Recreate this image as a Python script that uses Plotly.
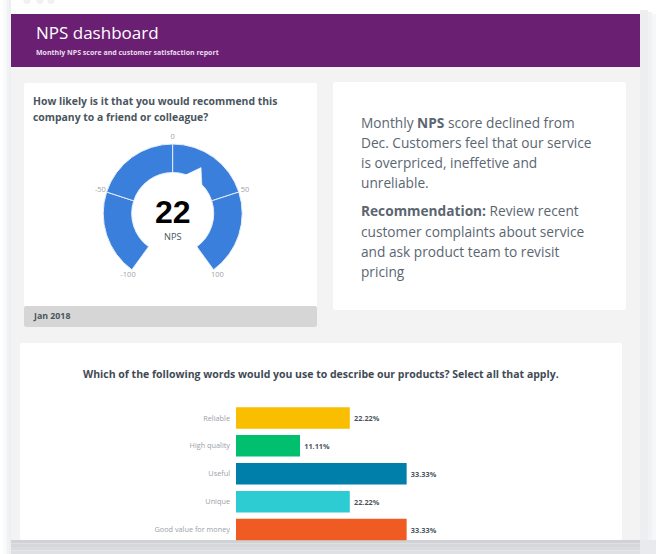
import plotly.graph_objects as go

W, H = 656, 554

# data
nps_score = 22
band_starts = [-100, -50, 0, 50]
band_size = 50
nps_ticks = [-100, -50, 0, 50, 100]
words = ["Reliable", "High quality", "Useful", "Unique", "Good value for money"]
# bar lengths as drawn; High quality is drawn a little longer than its label says
word_pct = [22.22, 12.5, 33.33, 22.22, 33.33]
word_labels = ["22.22%", "11.11%", "33.33%", "22.22%", "33.33%"]
word_colors = ["#f9be00", "#00bf6f", "#007faa", "#2dccd3", "#f05b24"]
summary_lines = [
    "Monthly <b>NPS</b> score declined from",
    "Dec. Customers feel that our service",
    "is overpriced, ineffetive and",
    "unreliable.",
]
advice_lines = [
    "<b>Recommendation:</b> Review recent",
    "customer complaints about service",
    "and ask product team to revisit",
    "pricing",
]

FONT = "Open Sans"
DEG_PER_NPS = 1.44
HOLE_R = 41
OUTER_R = 69.5
TICK_R = 76
GAUGE_R = 80


def px(x):
    return x / W


def py(y):
    return 1 - y / H


def rect(x0, y0, x1, y1, color, radius=0):
    if radius:
        r = radius
        path = (f"M{px(x0 + r)},{py(y0)} L{px(x1 - r)},{py(y0)} Q{px(x1)},{py(y0)} {px(x1)},{py(y0 + r)} "
                f"L{px(x1)},{py(y1 - r)} Q{px(x1)},{py(y1)} {px(x1 - r)},{py(y1)} "
                f"L{px(x0 + r)},{py(y1)} Q{px(x0)},{py(y1)} {px(x0)},{py(y1 - r)} "
                f"L{px(x0)},{py(y0 + r)} Q{px(x0)},{py(y0)} {px(x0 + r)},{py(y0)} Z")
        return dict(type="path", path=path, xref="paper", yref="paper",
                    fillcolor=color, line_width=0, layer="below")
    return dict(type="rect", x0=px(x0), x1=px(x1), y0=py(y0), y1=py(y1), xref="paper", yref="paper",
                fillcolor=color, line_width=0, layer="below")


def label(x, y, text, size, color, anchor="left", family=FONT, weight=None):
    font = dict(family=family, size=size, color=color)
    if weight:
        font["weight"] = weight
    return dict(x=px(x), y=py(y), xref="paper", yref="paper", text=text, showarrow=False,
                xanchor=anchor, yanchor="middle", borderpad=0, font=font)


shapes = []
# drop shadow around the page
for i, c in enumerate(["#fbfbfc", "#f7f8f9", "#f2f3f5", "#eeeff1"]):
    shapes.append(rect(3 + i * 2, 0, 11, 554, c))
for i, c in enumerate(["#f6f7f8", "#f1f2f4", "#eceef0"]):
    shapes.append(rect(640, 14 - i * 2, 656 - i * 4, 554, c))
for i, c in enumerate(["#d0d2d5", "#d5d7da", "#dadbde", "#dfe0e3"]):
    shapes.append(rect(11, 540 + i * 3.5, 640, 540 + (i + 1) * 3.5, c))
shapes.append(rect(640, 540, 656, 554, "#e9eaed"))
shapes.append(rect(11, 14, 640, 540, "#f3f3f3"))
shapes.append(rect(11, 14, 640, 67, "#6a1f73"))
# window dots
for cx in [27, 40, 51]:
    shapes.append(dict(type="circle", x0=px(cx - 3.5), x1=px(cx + 3.5), y0=py(4), y1=py(-3),
                       xref="paper", yref="paper", fillcolor="#f1f1f1", line_width=0, layer="below"))
# cards
shapes.append(rect(24, 83, 317, 327, "#ffffff", 2))
shapes.append(rect(24, 306, 317, 327, "#d6d6d6", 2))
shapes.append(rect(333, 82, 626, 310, "#ffffff", 2))
shapes.append(rect(20, 343, 622, 540, "#ffffff", 2))

fig = go.Figure()

# gauge
fig.add_trace(go.Barpolar(
    theta=[(s + band_size / 2) * DEG_PER_NPS for s in band_starts],
    width=[band_size * DEG_PER_NPS] * len(band_starts),
    r=[OUTER_R - HOLE_R] * len(band_starts),
    base=HOLE_R,
    marker=dict(color="#3a7fdc", line=dict(color="#e4edf8", width=1)),
    hoverinfo="skip",
))
needle = nps_score * DEG_PER_NPS
fig.add_trace(go.Scatterpolar(
    theta=[needle - 13.5, needle, needle + 14.5, needle - 13.5],
    r=[HOLE_R - 0.5, 54, HOLE_R - 0.5, HOLE_R - 0.5],
    mode="lines", fill="toself", fillcolor="#ffffff",
    line=dict(color="#ffffff", width=0.5),
    hoverinfo="skip",
))
# scale labels
fig.add_trace(go.Scatterpolar(
    theta=[t * DEG_PER_NPS for t in nps_ticks],
    r=[TICK_R] * len(nps_ticks),
    mode="text",
    text=[str(t) for t in nps_ticks],
    textposition="middle center",
    textfont=dict(family=FONT, size=7.5, color="#9fa3a8"),
    hoverinfo="skip",
))

# word bars
fig.add_trace(go.Bar(
    x=word_pct, y=words, orientation="h",
    marker=dict(color=word_colors, line_width=0),
    width=0.77,
    text=["\u2009<b>" + t + "</b>" for t in word_labels],
    textposition="outside", cliponaxis=False,
    textfont=dict(family=FONT, size=7.3, color="#4a5560"),
    hoverinfo="skip",
))

annotations = [
    label(35, 33, "NPS dashboard", 17, "#ffffff", weight=500),
    label(35, 52.5, "<b>Monthly NPS score and customer satisfaction report</b>", 7, "#eadcec"),
    label(32, 101, "<b>How likely is it that you would recommend this</b>", 10.4, "#4a5560"),
    label(32, 117, "<b>company to a friend or colleague?</b>", 10.4, "#4a5560"),
    label(32, 316, "<b>Jan 2018</b>", 8.8, "#4a5560"),
    label(321, 373.5, "<b>Which of the following words would you use to describe our products? Select all that apply.</b>",
          10.5, "#3f4a55", "center"),
    label(172.5, 211.5, "<b>%d</b>" % nps_score, 32, "#000000", "center", "Liberation Sans"),
    label(172.5, 236, "NPS", 9.2, "#4a5560", "center"),
]
for i, line in enumerate(summary_lines):
    annotations.append(label(360, 122 + i * 20.3, line, 13.7, "#5b6671"))
for i, line in enumerate(advice_lines):
    annotations.append(label(360, 211 + i * 20.2, line, 13.7, "#5b6671"))

fig.update_layout(
    width=W, height=H,
    margin=dict(l=0, r=0, t=0, b=0),
    paper_bgcolor="#ffffff", plot_bgcolor="rgba(0,0,0,0)",
    showlegend=False,
    shapes=shapes,
    annotations=annotations,
    polar=dict(
        domain=dict(x=[px(172.7 - GAUGE_R), px(172.7 + GAUGE_R)],
                    y=[py(213.5 + GAUGE_R), py(213.5 - GAUGE_R)]),
        bgcolor="rgba(0,0,0,0)",
        radialaxis=dict(visible=False, range=[0, GAUGE_R]),
        angularaxis=dict(
            rotation=90, direction="clockwise", thetaunit="degrees",
            showticklabels=False, showgrid=False, showline=False, ticks="",
        ),
    ),
    xaxis=dict(domain=[px(236), px(620)], range=[0, 75], visible=False),
    yaxis=dict(
        domain=[py(543.5), py(404)], autorange="reversed", type="category",
        showgrid=False, zeroline=False, showline=False, ticks="",
        ticklabelstandoff=5,
        tickfont=dict(family=FONT, size=7.3, color="#9aa1a8"),
    ),
)

# the page's default body margin would push the figure 8px down and right
fig.write_html("out.html", config=dict(displayModeBar=False),
               post_script="document.body.style.margin='0';")
